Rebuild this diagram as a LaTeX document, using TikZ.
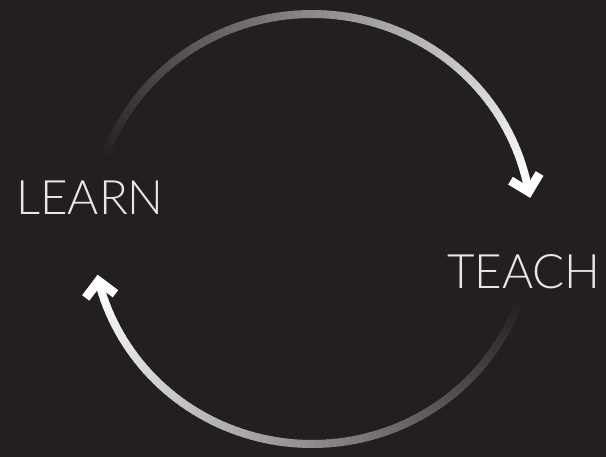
\documentclass[tikz,border=0pt]{standalone}
\usepackage{fontspec}
\IfFontExistsTF{Lato Light}{\newfontfamily\wordfont{Lato Light}}{\newfontfamily\wordfont{Lato}}
\definecolor{bgcol}{HTML}{231F20}
\definecolor{wordcol}{HTML}{E6E7E8}
\begin{document}
\begin{tikzpicture}[x=1pt, y=1pt,
	word/.style={wordcol, font=\wordfont\fontsize{47.5}{50}\selectfont, anchor=base, inner sep=0pt},
	chevron/.style={white, line width=9pt, line join=miter, line cap=butt}]

	\def \cx{312}
	\def \cy{228}
	\def \rx{220}
	\def \ry{215}
	\def \nseg{80}
	\def \lw{8pt}

	\fill[bgcol] (0,0) rectangle (606,457);
	\useasboundingbox (0,0) rectangle (606,457);

	% TOP ARC
	\def \astart{160}
	\def \aend{10}
	\foreach \i in {1,...,\nseg}{
		\pgfmathsetmacro{\ta}{\astart+(\aend-\astart)*(\i-1)/\nseg}
		\pgfmathsetmacro{\tb}{\astart+(\aend-\astart)*\i/\nseg-0.3}
		\pgfmathsetmacro{\pct}{100*\i/\nseg}
		\draw[line width=\lw, white!\pct!bgcol] (\cx,\cy) ++(\ta:\rx pt and \ry pt)
			arc[start angle=\ta, end angle=\tb, x radius=\rx pt, y radius=\ry pt];
	}
	\begin{scope}[shift={(\cx,\cy)}, shift={(\aend:\rx pt and \ry pt)}, rotate=-76]
		\draw[chevron] (-15,15) -- (0,0) -- (-15,-15);
	\end{scope}

	% BOTTOM ARC
	\def \astart{-20}
	\def \aend{-166}
	\foreach \i in {1,...,\nseg}{
		\pgfmathsetmacro{\ta}{\astart+(\aend-\astart)*(\i-1)/\nseg}
		\pgfmathsetmacro{\tb}{\astart+(\aend-\astart)*\i/\nseg-0.3}
		\pgfmathsetmacro{\pct}{100*\i/\nseg}
		\draw[line width=\lw, white!\pct!bgcol] (\cx,\cy) ++(\ta:\rx pt and \ry pt)
			arc[start angle=\ta, end angle=\tb, x radius=\rx pt, y radius=\ry pt];
	}
	\begin{scope}[shift={(\cx,\cy)}, shift={(\aend:\rx pt and \ry pt)}, rotate=98]
		\draw[chevron] (-15,15) -- (0,0) -- (-15,-15);
	\end{scope}

	% WORDS
	\node[word] (learn) at (90,242) {LEARN};
	\node[word] (teach) at (524,168) {TEACH};

\end{tikzpicture}
\end{document}
